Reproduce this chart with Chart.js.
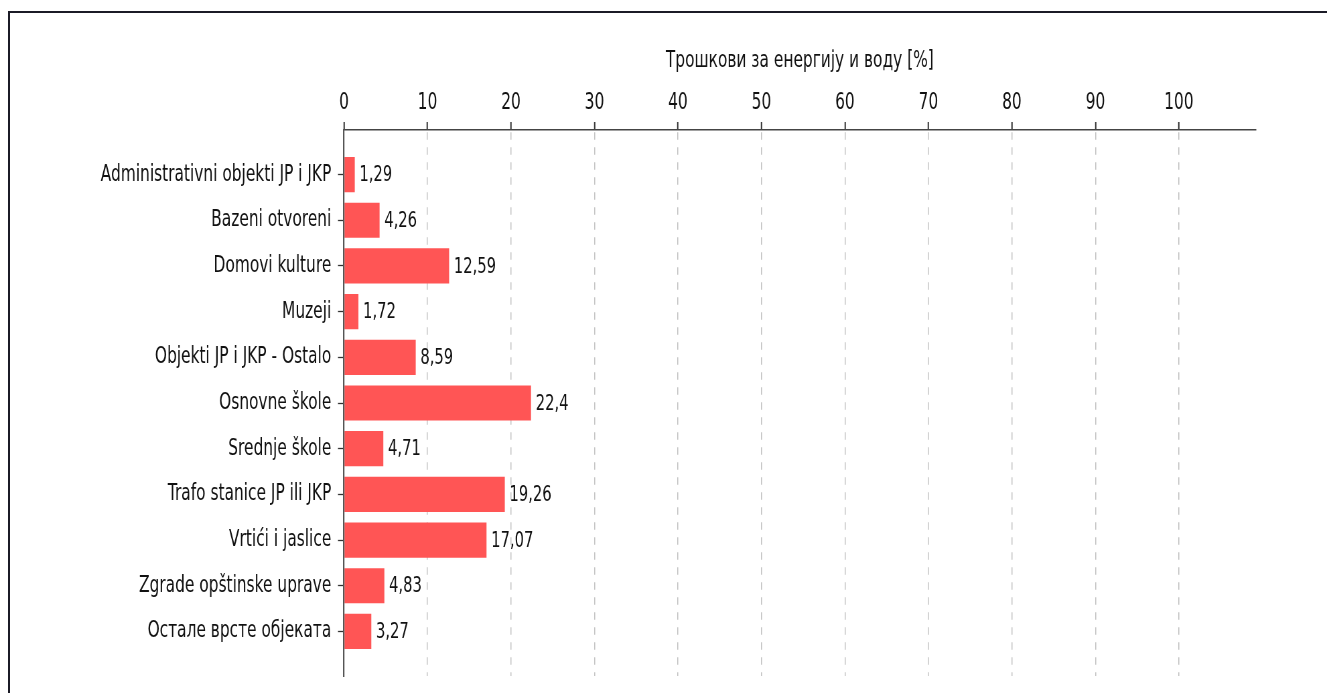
<!DOCTYPE html>
<html>
<head>
<meta charset="utf-8">
<script src="https://cdn.jsdelivr.net/npm/chart.js"></script>
<style>
  html, body { margin: 0; padding: 0; background: #fff; overflow: hidden; width: 1327px; height: 693px; }
  #frame { position: absolute; left: 8px; top: 11px; width: 1330px; height: 700px;
           border-left: 2px solid #1b1b26; border-top: 2px solid #1b1b26; box-sizing: border-box; }
  #wrap { position: absolute; left: 0; top: 0; height: 693px; transform-origin: 0 0; }
</style>
</head>
<body>
<div id="frame"></div>
<div id="wrap"><canvas id="c"></canvas></div>
<script>
// ---- data ----
const categories = [
  'Administrativni objekti JP i JKP',
  'Bazeni otvoreni',
  'Domovi kulture',
  'Muzeji',
  'Objekti JP i JKP - Ostalo',
  'Osnovne škole',
  'Srednje škole',
  'Trafo stanice JP ili JKP',
  'Vrtići i jaslice',
  'Zgrade opštinske uprave',
  'Остале врсте објеката'
];
const values = [1.29, 4.26, 12.59, 1.72, 8.59, 22.4, 4.71, 19.26, 17.07, 4.83, 3.27];
const xTickValues = [0, 10, 20, 30, 40, 50, 60, 70, 80, 90, 100];
const xTitle = 'Трошкови за енергију и воду [%]';

// ---- layout (the reference is horizontally squeezed) ----
const K = 0.67;
const W = Math.round(1327 / K);
const kx = 1327 / W;
const H = 693;
const FONT = 'DejaVu Sans';
const PAD_TOP = 20;
const AREA_LEFT = 344 / kx;
const AREA_RIGHT = 1255.7 / kx;
const AREA_TOP = 130;
const AREA_BOTTOM = 676;

const wrap = document.getElementById('wrap');
wrap.style.width = W + 'px';
wrap.style.transform = 'scaleX(' + kx + ')';

const points = values.map((v, i) => ({ x: v, y: i }));

const valueLabels = {
  id: 'valueLabels',
  afterDatasetsDraw(chart) {
    const ctx = chart.ctx;
    const meta = chart.getDatasetMeta(0);
    ctx.save();
    ctx.font = '22px "' + FONT + '"';
    ctx.fillStyle = '#111';
    ctx.textAlign = 'left';
    ctx.textBaseline = 'middle';
    meta.data.forEach((bar, i) => {
      const txt = String(values[i]).replace('.', ',');
      ctx.fillText(txt, bar.x + 7, bar.y + 1);
    });
    ctx.restore();
  }
};

new Chart(document.getElementById('c'), {
  type: 'bar',
  data: {
    datasets: [{
      data: points,
      backgroundColor: '#ff5555',
      borderWidth: 0,
      barPercentage: 0.77,
      categoryPercentage: 1
    }]
  },
  plugins: [valueLabels],
  options: {
    indexAxis: 'y',
    responsive: true,
    maintainAspectRatio: false,
    animation: false,
    devicePixelRatio: 1,
    layout: { padding: { top: PAD_TOP, left: 0, right: W - AREA_RIGHT, bottom: H - AREA_BOTTOM } },
    plugins: { legend: { display: false }, tooltip: { enabled: false } },
    scales: {
      x: {
        type: 'linear',
        position: 'top',
        min: 0,
        max: 109.2,
        offset: false,
        afterBuildTicks: s => { s.ticks = xTickValues.map(v => ({ value: v })); },
        afterFit: s => { s.height = AREA_TOP - PAD_TOP; },
        ticks: { font: { family: FONT, size: 23 }, color: '#111', padding: 5, maxRotation: 0, autoSkip: false },
        grid: {
          offset: false,
          drawOnChartArea: true,
          color: c => (c.tick && c.tick.value === 0) ? 'rgba(0,0,0,0)' : '#c2c2c2',
          lineWidth: 1.5,
          tickColor: '#333',
          tickLength: 8,
          tickWidth: 2
        },
        border: { display: true, color: '#444', width: 1.6, dash: [7.5, 7.5], dashOffset: 13.3 },
        title: { display: true, text: xTitle, font: { family: FONT, size: 23 }, color: '#111', padding: { top: 27, bottom: 0 } }
      },
      y: {
        type: 'linear',
        reverse: true,
        offset: false,
        min: -0.975,
        max: 10.975,
        afterBuildTicks: s => { s.ticks = categories.map((_, i) => ({ value: i })); },
        afterFit: s => { s.width = AREA_LEFT; s.paddingTop = 0; s.paddingBottom = 0; },
        ticks: { callback: v => categories[v], font: { family: FONT, size: 23 }, color: '#111', padding: 10, autoSkip: false },
        grid: { offset: false, drawOnChartArea: false, drawTicks: true, tickLength: 9, tickWidth: 1.3, tickColor: '#333' },
        border: { display: true, color: '#555', width: 2.2, z: 1 }
      }
    }
  }
});
</script>
</body>
</html>
